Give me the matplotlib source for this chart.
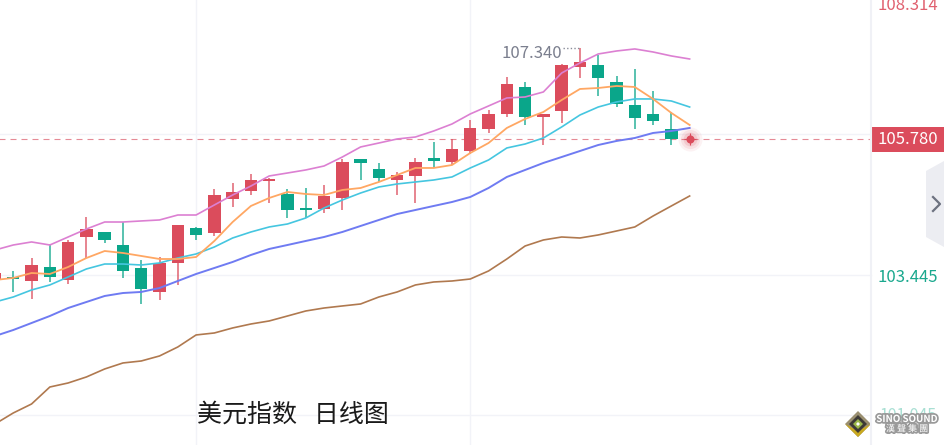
import matplotlib
matplotlib.use("Agg")
import matplotlib.pyplot as plt
import matplotlib.patheffects as pe
from matplotlib.patches import Polygon, Rectangle
import numpy as np

plt.rcParams['font.family'] = ['Noto Sans CJK SC', 'DejaVu Sans']

# daily candles, US dollar index, first one is cut off by the left edge
opens = [103.380, 103.398, 103.346, 103.586, 103.363, 104.100, 104.186, 103.963, 103.569, 103.158,
         103.655, 104.255, 104.169, 104.752, 104.889, 105.060, 104.837, 104.580, 104.580, 104.769,
         105.437, 105.266, 105.077, 105.146, 105.454, 105.386, 105.574, 105.951, 106.209, 106.671,
         106.157, 106.260, 107.014, 107.048, 106.757, 106.363, 106.209, 105.951]
closes = [103.483, 103.380, 103.620, 103.415, 104.015, 104.237, 104.049, 103.518, 103.209, 103.655,
          104.306, 104.135, 104.820, 104.872, 105.077, 105.077, 104.563, 104.563, 104.803, 105.386,
          105.369, 105.112, 105.163, 105.386, 105.403, 105.609, 105.969, 106.209, 106.723, 106.157,
          106.209, 107.048, 107.100, 106.826, 106.380, 106.140, 106.089, 105.780]
highs = [103.483, 103.518, 103.740, 103.980, 104.049, 104.443, 104.186, 104.357, 103.706, 103.757,
         104.306, 104.272, 104.923, 105.026, 105.180, 105.112, 104.923, 104.940, 104.992, 105.437,
         105.437, 105.369, 105.214, 105.454, 105.729, 105.780, 106.106, 106.277, 106.843, 106.757,
         106.209, 107.066, 107.340, 107.220, 106.860, 106.980, 106.603, 106.243]
lows = [103.312, 103.158, 103.038, 103.329, 103.295, 103.740, 103.997, 103.398, 102.952, 103.020,
        103.278, 104.049, 104.117, 104.614, 104.820, 104.683, 104.426, 104.426, 104.512, 104.563,
        105.077, 105.043, 104.820, 104.683, 105.283, 105.334, 105.523, 105.883, 106.157, 106.020,
        105.677, 106.054, 106.826, 106.517, 106.328, 105.951, 106.020, 105.677]

# moving averages, one more point than candles (the live bar)
ma_pink = [103.877, 103.963, 104.015, 103.963, 104.100, 104.237, 104.357, 104.357, 104.375, 104.392,
           104.477, 104.477, 104.649, 104.820, 104.974, 105.146, 105.197, 105.249, 105.317, 105.471,
           105.643, 105.711, 105.780, 105.814, 105.917, 106.037, 106.209, 106.346, 106.483, 106.500,
           106.586, 106.911, 107.083, 107.237, 107.288, 107.323, 107.271, 107.203, 107.151]
ma_orange = [103.363, 103.398, 103.483, 103.466, 103.586, 103.740, 103.860, 103.826, 103.775, 103.723,
             103.723, 103.757, 104.032, 104.357, 104.632, 104.769, 104.872, 104.837, 104.820, 104.906,
             104.940, 105.043, 105.163, 105.283, 105.283, 105.334, 105.540, 105.711, 105.969, 106.123,
             106.243, 106.448, 106.637, 106.654, 106.688, 106.671, 106.466, 106.226, 106.020]
ma_cyan = [102.986, 103.072, 103.192, 103.278, 103.415, 103.552, 103.637, 103.637, 103.620, 103.655,
           103.740, 103.809, 103.929, 104.083, 104.186, 104.272, 104.323, 104.426, 104.597, 104.734,
           104.854, 104.957, 105.009, 105.043, 105.077, 105.129, 105.283, 105.420, 105.626, 105.694,
           105.797, 105.986, 106.191, 106.328, 106.414, 106.466, 106.466, 106.431, 106.328]
ma_blue = [102.403, 102.506, 102.626, 102.746, 102.883, 102.986, 103.089, 103.140, 103.158, 103.226,
           103.346, 103.466, 103.569, 103.672, 103.792, 103.895, 103.963, 104.032, 104.100, 104.186,
           104.289, 104.392, 104.494, 104.563, 104.632, 104.700, 104.786, 104.940, 105.129, 105.249,
           105.369, 105.471, 105.574, 105.677, 105.746, 105.797, 105.883, 105.917, 105.969]
ma_brown = [100.895, 101.084, 101.238, 101.529, 101.598, 101.701, 101.838, 101.941, 101.975, 102.061,
            102.215, 102.421, 102.455, 102.541, 102.609, 102.661, 102.746, 102.832, 102.883, 102.918,
            102.952, 103.072, 103.158, 103.278, 103.329, 103.346, 103.380, 103.518, 103.723, 103.946,
            104.049, 104.100, 104.083, 104.135, 104.203, 104.272, 104.460, 104.632, 104.803]

last_price = 105.780
high_price = 107.340
grid_prices = [105.863, 103.445, 101.045]
grid_bars = [11, 26]

RED = '#db4c5c'
GREEN = '#0aa68a'

fig = plt.figure(figsize=(9.44, 4.45), dpi=100)
ax = fig.add_axes([0, 0, 1, 1])
ax.set_xlim(0.2735, 51.915)
ax.set_ylim(100.535, 108.162)
ax.axis('off')

for p in grid_prices:
    ax.plot([0, 47.9], [p, p], color='#f2f3f8', lw=1, zorder=0)
for b in grid_bars:
    ax.axvline(b, color='#f2f3f8', lw=1, zorder=0)

x = np.arange(len(opens))
o = np.array(opens)
c = np.array(closes)
cols = [RED if cc >= oo else GREEN for oo, cc in zip(o, c)]
ax.vlines(x, lows, highs, colors=cols, lw=1.2, alpha=0.8, zorder=2)
ax.bar(x, np.maximum(np.abs(c - o), 0.03), bottom=np.minimum(o, c), width=0.68, color=cols, zorder=2)

xm = np.arange(len(ma_pink))
ax.plot(xm, ma_brown, color='#b0794f', lw=1.2, zorder=3)
ax.plot(xm, ma_blue, color='#6f7bf2', lw=1.4, zorder=3)
ax.plot(xm, ma_cyan, color='#45c6e0', lw=1.2, zorder=3)
ax.plot(xm, ma_orange, color='#ffa763', lw=1.3, zorder=3)
ax.plot(xm, ma_pink, color='#dc80d2', lw=1.2, zorder=3)

# last price line and pulsing dot
ax.plot([0, 47.9], [last_price, last_price], color='#e58a96', lw=0.8, dashes=(5.4, 4.5), zorder=1)
for s, a in [(300, 0.07), (190, 0.1), (100, 0.15)]:
    ax.scatter([xm[-1]], [last_price], s=s, color=RED, alpha=a, lw=0, zorder=4)
ax.scatter([xm[-1]], [last_price], s=34, color=RED, lw=0, zorder=5)
ax.scatter([xm[-1]], [last_price], s=70, marker='+', color=RED, lw=0.8, zorder=5)

# high label
hi_bar = highs.index(high_price)
ax.plot([hi_bar - 0.95, hi_bar], [high_price, high_price], color='#8a8d99', lw=1, dashes=(1, 1.6), zorder=4)
ax.text(hi_bar - 1.0, high_price - 0.09, f'{high_price:.3f}', ha='right', va='center', fontsize=12, color='#7b7f8e', zorder=6)

# overlay in pixels for the price axis furniture and watermark
ov = fig.add_axes([0, 0, 1, 1])
ov.set_xlim(0, 944)
ov.set_ylim(445, 0)
ov.axis('off')
ov.patch.set_alpha(0)

ov.plot([871, 871], [0, 445], color='#f0f1f6', lw=1.5)
ov.text(908, 6, '108.314', ha='center', va='center', fontsize=12, color='#e0606f')
ov.text(908, 277, '103.445', ha='center', va='center', fontsize=12, color='#1aa88e')
ov.text(908, 416, '101.045', ha='center', va='center', fontsize=11.5, color='#a8dfd3')

ov.add_patch(Rectangle((871, 127), 73, 25, color=RED, lw=0))
ov.text(908, 139, f'{last_price:.3f}', ha='center', va='center', fontsize=12, color='white')

ov.add_patch(Polygon([(926, 171), (944, 161), (944, 247), (926, 237)], color='#ecedf2', lw=0))
ov.plot([933, 940, 933], [197, 204, 211], color='#6d7280', lw=1.6)

ov.text(197, 415, '美元指数   日线图', ha='left', va='center', fontsize=18, color='#1a1a1a')

# logo
ov.add_patch(Polygon([(858, 411), (871, 424), (858, 437), (845, 424)], color='#9a8f70', lw=0))
ov.add_patch(Polygon([(845, 424), (858, 437), (871, 424), (858, 431)], color='#c9a91f', lw=0))
ov.add_patch(Polygon([(858, 415), (867, 424), (858, 433), (849, 424)], color='#3d3a36', lw=0))
ov.add_patch(Polygon([(858, 419), (863, 424), (858, 429), (853, 424)], color='#9ab648', lw=0))
ov.add_patch(Polygon([(858, 422), (860, 424), (858, 426), (856, 424)], color='white', lw=0))

shadow = [pe.withStroke(linewidth=2.5, foreground='#9a9a9a')]
ov.text(907, 419, 'SINO SOUND', ha='center', va='center', fontsize=7, fontweight='bold', color='white', path_effects=shadow)
ov.text(907, 429, '漢 聲 集 團', ha='center', va='center', fontsize=6.5, color='white', path_effects=shadow)

fig.savefig('out.png', dpi=100)
